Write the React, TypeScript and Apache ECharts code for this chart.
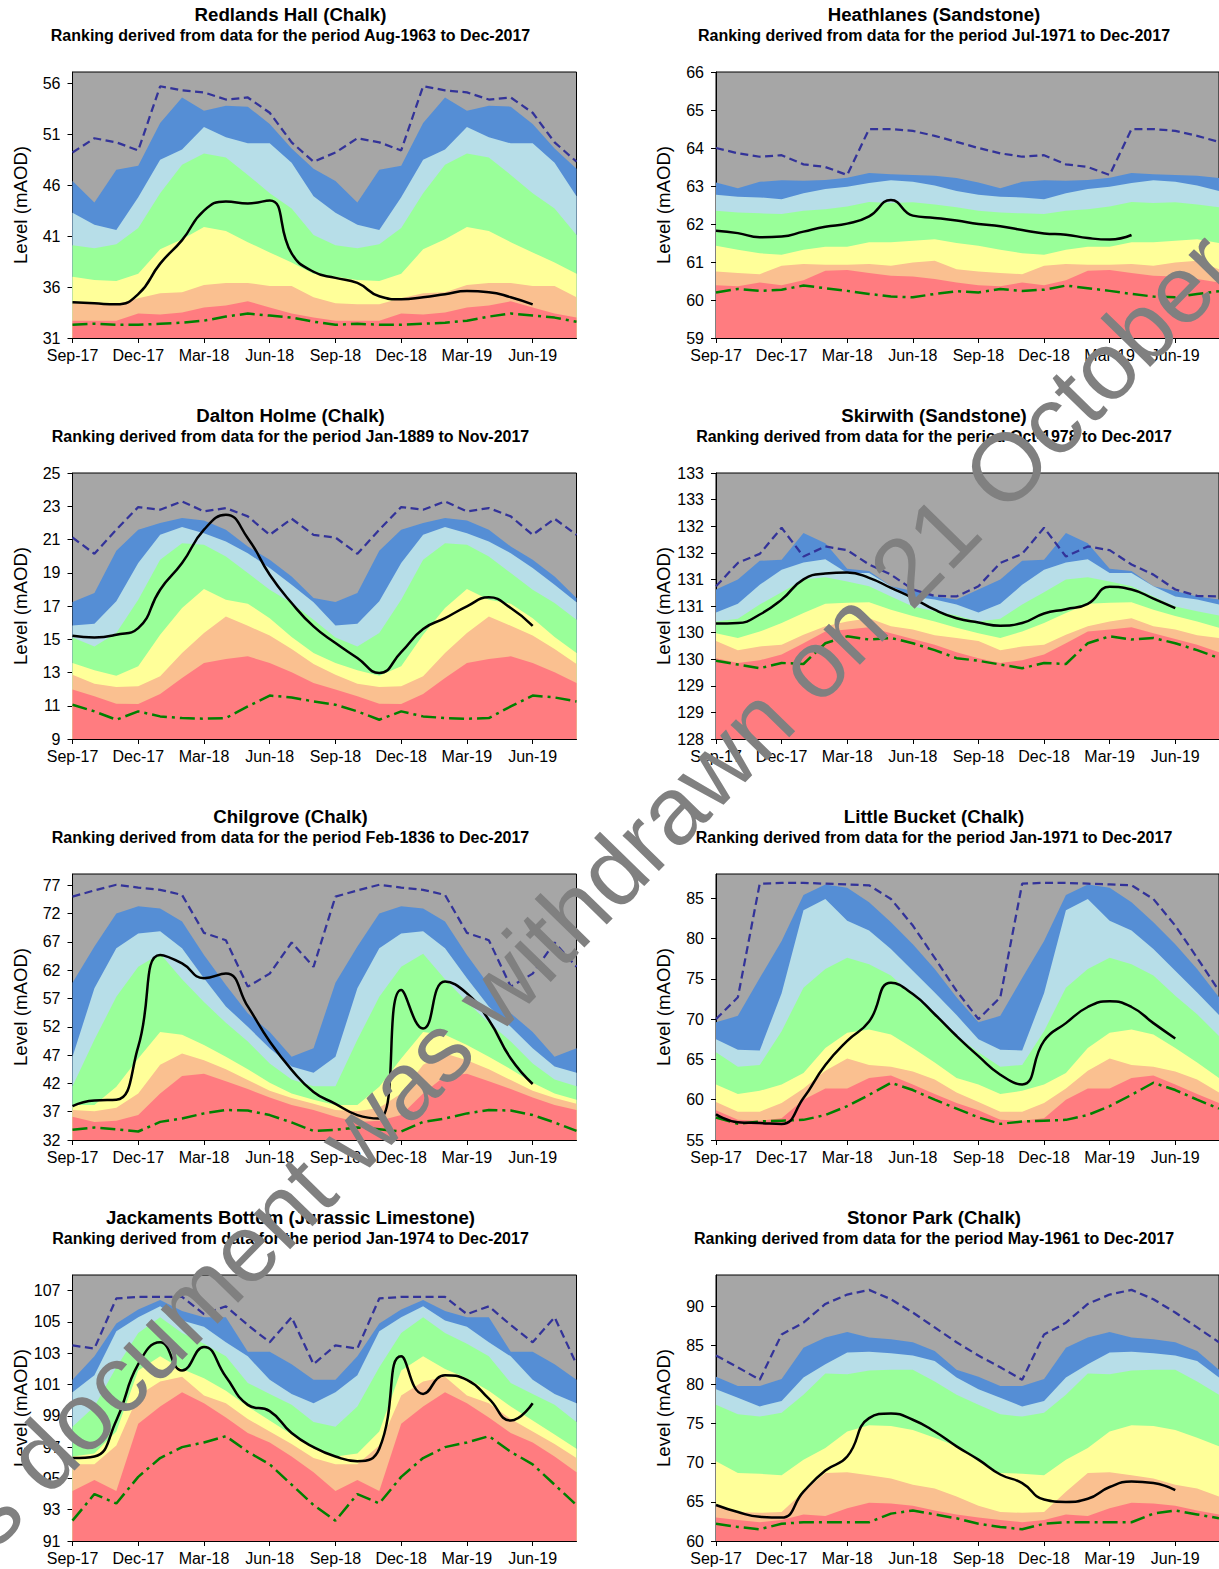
import React, { useEffect, useRef } from 'react';
import * as echarts from 'echarts';

const FONT = "'Liberation Sans', Arial, Helvetica, sans-serif";

// x axis: month index 0 = Sep-17 ... 23 = Aug-19
const TICK_POS = [0, 3, 6, 9, 12, 15, 18, 21];
const TICK_LABELS = ['Sep-17', 'Dec-17', 'Mar-18', 'Jun-18', 'Sep-18', 'Dec-18', 'Mar-19', 'Jun-19'];

// Monthly band tops (Sep..Aug); the same monthly climatology is shown for both years.
// ---- Redlands Hall ----
const redlandsRed = [32.7, 32.7, 32.7, 33.4, 33.3, 33.5, 34.0, 34.2, 34.6, 34.0, 33.4, 33.0];
const redlandsOrange = [34.4, 34.3, 34.3, 34.9, 35.4, 35.5, 36.2, 36.4, 36.4, 36.1, 36.1, 35.0];
const redlandsYellow = [37.0, 36.7, 36.6, 37.3, 39.7, 40.7, 41.9, 41.5, 40.4, 39.4, 38.4, 37.3];
const redlandsGreen = [40.1, 39.8, 40.2, 41.8, 45.2, 48.0, 49.1, 48.7, 47.0, 45.2, 43.7, 41.1];
const redlandsLightBlue = [43.3, 42.1, 41.6, 44.8, 48.5, 49.5, 51.7, 50.7, 50.1, 50.1, 48.2, 44.9];
const redlandsBlue = [46.4, 44.3, 47.5, 47.9, 52.1, 54.6, 53.3, 53.8, 53.7, 52.0, 49.6, 47.6];
const redlandsMax = [49.2, 50.6, 50.2, 49.4, 55.7, 55.3, 55.1, 54.4, 54.6, 53.1, 50.2, 48.3];
const redlandsMin = [32.3, 32.4, 32.3, 32.3, 32.4, 32.5, 32.7, 33.1, 33.4, 33.2, 33.0, 32.6];
const redlandsLevel = [34.5, 34.4, 34.3, 35.3, 38.3, 40.6, 43.5, 44.4, 44.2, 44.5, 39.3, 37.5, 36.9, 36.4, 35.1, 34.8, 35.0, 35.3, 35.6, 35.5, 35.0, 34.3];
const redlandsTicks = [31, 36, 41, 46, 51, 56];

// ---- Heathlanes ----
const heathRed = [60.39, 60.36, 60.46, 60.39, 60.52, 60.77, 60.79, 60.71, 60.64, 60.62, 60.55, 60.46];
const heathOrange = [60.75, 60.71, 60.68, 60.90, 60.95, 60.93, 60.93, 60.95, 60.90, 60.99, 61.03, 60.81];
const heathYellow = [61.43, 61.32, 61.23, 61.19, 61.32, 61.40, 61.40, 61.52, 61.52, 61.56, 61.60, 61.50];
const heathGreen = [62.35, 62.30, 62.28, 62.26, 62.35, 62.39, 62.46, 62.58, 62.55, 62.57, 62.51, 62.44];
const heathLightBlue = [62.77, 62.72, 62.70, 62.65, 62.81, 62.92, 62.98, 63.08, 63.15, 63.11, 63.01, 62.87];
const heathBlue = [63.09, 62.94, 63.11, 63.15, 63.14, 63.16, 63.22, 63.34, 63.31, 63.29, 63.27, 63.21];
const heathMax = [64.0, 63.86, 63.77, 63.81, 63.57, 63.5, 63.29, 64.5, 64.5, 64.45, 64.32, 64.16];
const heathMin = [60.2, 60.29, 60.24, 60.27, 60.38, 60.31, 60.24, 60.16, 60.09, 60.07, 60.16, 60.23];
const heathLevel = [61.82, 61.76, 61.65, 61.67, 61.8, 61.93, 62.01, 62.2, 62.63, 62.22, 62.16, 62.09, 62.0, 61.94, 61.84, 61.75, 61.72, 61.63, 61.59, 61.71];
const heathTicks = [59, 60, 61, 62, 63, 64, 65, 66];

// ---- Dalton Holme ----
const daltonRed = [11.97, 11.57, 11.12, 11.1, 11.71, 12.67, 13.57, 13.81, 13.97, 13.57, 13.01, 12.37];
const daltonOrange = [12.87, 12.33, 12.13, 12.17, 12.77, 14.17, 15.37, 16.37, 15.81, 15.23, 14.41, 13.51];
const daltonYellow = [13.57, 13.13, 12.81, 13.37, 15.27, 16.88, 18.02, 17.38, 17.14, 16.27, 15.13, 14.17];
const daltonGreen = [15.11, 14.57, 15.37, 17.38, 19.78, 20.78, 20.68, 19.98, 18.98, 17.98, 17.18, 16.17];
const daltonLightBlue = [15.83, 15.93, 17.28, 19.58, 21.28, 21.75, 21.38, 20.88, 20.18, 19.28, 18.28, 17.22];
const daltonBlue = [17.24, 17.78, 20.32, 21.59, 21.99, 22.29, 22.15, 21.59, 20.58, 19.78, 18.78, 17.48];
const daltonMax = [21.12, 20.14, 21.59, 22.95, 22.79, 23.29, 22.69, 22.89, 22.39, 21.28, 22.25, 21.28];
const daltonMin = [11.06, 10.66, 10.16, 10.66, 10.36, 10.26, 10.22, 10.26, 10.96, 11.61, 11.5, 11.26];
const daltonLevel = [15.21, 15.11, 15.27, 15.67, 17.98, 19.58, 21.59, 22.49, 21.08, 18.88, 17.18, 15.77, 14.77, 13.87, 12.97, 14.23, 15.61, 16.27, 16.98, 17.52, 16.88, 15.81];
const daltonTicks = [9, 11, 13, 15, 17, 19, 21, 23, 25];

// ---- Skirwith ----
const skirRed = [129.52, 129.43, 129.48, 129.59, 129.8, 130.02, 130.06, 130.1, 129.99, 129.88, 129.77, 129.63];
const skirOrange = [129.84, 129.67, 129.74, 129.77, 129.96, 130.12, 130.21, 130.27, 130.12, 130.06, 129.95, 129.9];
const skirYellow = [129.99, 129.9, 130.02, 130.18, 130.37, 130.54, 130.56, 130.57, 130.43, 130.31, 130.21, 130.09];
const skirGreen = [130.21, 130.26, 130.53, 130.76, 131.0, 131.04, 130.96, 130.87, 130.68, 130.49, 130.4, 130.32];
const skirLightBlue = [130.38, 130.54, 130.9, 131.18, 131.32, 131.38, 131.12, 131.12, 130.87, 130.68, 130.62, 130.53];
const skirBlue = [130.81, 131.0, 131.35, 131.37, 131.87, 131.68, 131.2, 131.16, 130.87, 130.78, 130.68, 130.62];
const skirMax = [130.87, 131.31, 131.48, 131.97, 131.43, 131.62, 131.55, 131.28, 131.09, 130.81, 130.69, 130.68];
const skirMin = [129.47, 129.4, 129.33, 129.43, 129.41, 129.8, 129.93, 129.87, 129.9, 129.8, 129.67, 129.52];
const skirLevel = [130.17, 130.18, 130.34, 130.62, 131.0, 131.11, 131.13, 131.03, 130.84, 130.65, 130.43, 130.27, 130.19, 130.13, 130.18, 130.36, 130.44, 130.54, 130.86, 130.81, 130.64, 130.46];
const skirTicks = [128, 128.5, 129, 129.5, 130, 130.5, 131, 131.5, 132, 132.5, 133];

// ---- Chilgrove ----
const chilRed = [36.1, 35.2, 35.4, 36.4, 40.2, 43.3, 43.7, 42.4, 41.0, 39.5, 38.2, 37.3];
const chilOrange = [37.3, 37.1, 37.7, 40.2, 45.3, 47.3, 46.1, 44.5, 42.6, 40.7, 39.4, 38.4];
const chilYellow = [38.2, 38.2, 41.4, 46.4, 51.1, 50.6, 48.8, 46.7, 44.5, 42.1, 40.2, 39.1];
const chilGreen = [41.5, 49.7, 57.3, 62.6, 64.9, 60.4, 56.4, 52.7, 49.4, 45.5, 42.7, 41.5];
const chilLightBlue = [46.7, 58.8, 65.9, 68.5, 68.9, 65.9, 60.6, 55.6, 52.0, 48.2, 45.0, 43.9];
const chilBlue = [59.8, 66.2, 72.0, 73.3, 72.9, 70.6, 64.7, 59.4, 54.4, 51.1, 46.7, 48.2];
const chilMax = [75.0, 76.1, 77.1, 76.6, 76.2, 75.3, 68.6, 67.3, 59.1, 61.4, 66.9, 62.6];
const chilMin = [33.8, 34.2, 33.9, 33.5, 35.2, 35.8, 36.7, 37.3, 37.2, 36.4, 35.1, 33.6];
const chilLevel = [38.0, 39.0, 39.1, 48.5, 64.7, 63.2, 60.6, 61.4, 55.6, 49.4, 44.4, 40.5, 38.4, 36.4, 35.8, 58.5, 51.7, 60.0, 57.9, 53.2, 46.4, 41.9];
const chilTicks = [32, 37, 42, 47, 52, 57, 62, 67, 72, 77];

// ---- Little Bucket ----
const bucketRed = [58.7, 57.5, 57.4, 57.7, 60.0, 61.4, 61.4, 62.7, 63.0, 61.9, 60.7, 59.6];
const bucketOrange = [59.7, 58.5, 58.5, 59.6, 61.4, 63.6, 65.1, 64.3, 64.1, 63.5, 62.5, 60.9];
const bucketYellow = [61.9, 60.7, 61.1, 61.9, 63.3, 66.4, 68.3, 68.7, 68.1, 66.4, 64.6, 62.7];
const bucketGreen = [65.9, 64.1, 64.3, 68.5, 73.9, 76.2, 77.6, 76.8, 75.4, 72.9, 70.6, 67.9];
const bucketLightBlue = [67.5, 66.2, 66.1, 73.2, 83.5, 84.9, 82.2, 81.0, 78.7, 76.0, 73.3, 70.5];
const bucketBlue = [69.6, 70.4, 75.1, 79.7, 85.4, 86.7, 86.3, 84.5, 82.0, 79.3, 76.2, 72.7];
const bucketMax = [70.0, 72.7, 86.8, 86.9, 86.9, 86.8, 86.7, 86.6, 84.9, 81.6, 77.6, 73.5];
const bucketMin = [57.8, 57.0, 57.3, 57.4, 57.5, 58.1, 59.2, 60.6, 62.1, 61.2, 60.0, 58.9];
const bucketLevel = [58.2, 57.2, 57.1, 57.0, 60.2, 64.3, 67.3, 69.7, 74.5, 73.1, 70.6, 67.9, 65.4, 63.1, 61.9, 67.3, 69.5, 71.5, 72.2, 71.5, 69.5, 67.6];
const bucketTicks = [55, 60, 65, 70, 75, 80, 85];

// ---- Jackaments Bottom ----
const jackRed = [94.2, 94.9, 94.2, 98.5, 99.6, 100.5, 99.8, 98.9, 97.9, 97.3, 96.4, 95.4];
const jackOrange = [95.9, 95.9, 97.1, 100.3, 101.2, 101.5, 100.3, 99.8, 98.8, 98.0, 97.2, 96.3];
const jackYellow = [96.4, 96.6, 98.0, 101.9, 102.8, 102.0, 101.4, 100.6, 99.6, 98.7, 97.8, 96.9];
const jackGreen = [98.3, 99.6, 102.1, 104.3, 105.3, 104.3, 103.6, 102.8, 101.1, 100.4, 99.7, 98.6];
const jackLightBlue = [100.5, 101.6, 104.4, 105.3, 106.0, 105.1, 104.7, 103.7, 102.8, 101.3, 100.4, 99.8];
const jackBlue = [101.3, 102.8, 104.9, 105.8, 106.4, 105.7, 105.3, 105.3, 103.1, 103.1, 102.3, 101.3];
const jackMax = [103.5, 103.3, 106.5, 106.6, 106.6, 106.6, 105.5, 106.0, 104.8, 103.7, 105.3, 102.3];
const jackMin = [92.3, 94.0, 93.4, 95.1, 96.3, 97.0, 97.3, 97.7, 96.7, 95.9, 94.6, 93.3];
const jackLevel = [96.3, 96.4, 98.7, 102.3, 103.7, 101.9, 103.4, 101.5, 99.7, 99.3, 97.9, 97.0, 96.4, 96.1, 96.9, 102.8, 100.4, 101.6, 101.3, 100.1, 98.7, 99.8];
const jackTicks = [91, 93, 95, 97, 99, 101, 103, 105, 107];

// ---- Stonor Park ----
const stonorRed = [63.0, 62.7, 62.4, 62.7, 63.4, 63.2, 64.2, 64.9, 64.8, 64.5, 63.9, 63.4];
const stonorOrange = [64.5, 63.7, 63.6, 63.7, 66.3, 68.7, 68.8, 68.4, 68.0, 67.2, 66.7, 65.7];
const stonorYellow = [70.2, 68.7, 68.6, 68.4, 70.4, 71.9, 74.0, 74.8, 74.7, 74.2, 73.2, 72.1];
const stonorGreen = [77.4, 76.2, 75.9, 76.4, 78.7, 81.4, 81.3, 81.8, 81.9, 81.9, 80.4, 78.7];
const stonorLightBlue = [79.4, 78.3, 77.2, 77.9, 80.9, 82.6, 84.1, 84.2, 84.0, 83.7, 83.0, 80.9];
const stonorBlue = [81.0, 79.8, 79.8, 80.7, 84.7, 86.0, 86.7, 86.0, 85.8, 85.4, 84.3, 81.9];
const stonorMax = [83.7, 82.2, 80.6, 86.4, 87.9, 90.3, 91.5, 92.1, 90.9, 89.2, 87.3, 85.4];
const stonorMin = [62.2, 61.8, 61.5, 62.2, 62.4, 62.4, 62.4, 62.4, 63.5, 63.9, 63.4, 62.9];
const stonorLevel = [64.6, 63.7, 63.1, 63.0, 66.3, 69.0, 70.8, 75.7, 76.3, 75.5, 74.0, 72.1, 70.4, 68.5, 67.4, 65.3, 65.0, 65.4, 66.9, 67.6, 67.4, 66.5];
const stonorTicks = [60, 65, 70, 75, 80, 85, 90];

const PANELS = [
  { title: 'Redlands Hall (Chalk)', sub: 'Ranking derived from data for the period Aug-1963 to Dec-2017', yMin: 31, yMax: 57.1, ticks: redlandsTicks,
    red: redlandsRed, orange: redlandsOrange, yellow: redlandsYellow, green: redlandsGreen, lblue: redlandsLightBlue, blue: redlandsBlue, max: redlandsMax, min: redlandsMin, level: redlandsLevel },
  { title: 'Heathlanes (Sandstone)', sub: 'Ranking derived from data for the period Jul-1971 to Dec-2017', yMin: 59, yMax: 66, ticks: heathTicks,
    red: heathRed, orange: heathOrange, yellow: heathYellow, green: heathGreen, lblue: heathLightBlue, blue: heathBlue, max: heathMax, min: heathMin, level: heathLevel },
  { title: 'Dalton Holme (Chalk)', sub: 'Ranking derived from data for the period Jan-1889 to Nov-2017', yMin: 9, yMax: 25, ticks: daltonTicks,
    red: daltonRed, orange: daltonOrange, yellow: daltonYellow, green: daltonGreen, lblue: daltonLightBlue, blue: daltonBlue, max: daltonMax, min: daltonMin, level: daltonLevel },
  { title: 'Skirwith (Sandstone)', sub: 'Ranking derived from data for the period Oct-1978 to Dec-2017', yMin: 128, yMax: 133, ticks: skirTicks, round: true,
    red: skirRed, orange: skirOrange, yellow: skirYellow, green: skirGreen, lblue: skirLightBlue, blue: skirBlue, max: skirMax, min: skirMin, level: skirLevel },
  { title: 'Chilgrove (Chalk)', sub: 'Ranking derived from data for the period Feb-1836 to Dec-2017', yMin: 32, yMax: 79, ticks: chilTicks,
    red: chilRed, orange: chilOrange, yellow: chilYellow, green: chilGreen, lblue: chilLightBlue, blue: chilBlue, max: chilMax, min: chilMin, level: chilLevel },
  { title: 'Little Bucket (Chalk)', sub: 'Ranking derived from data for the period Jan-1971 to Dec-2017', yMin: 55, yMax: 88, ticks: bucketTicks,
    red: bucketRed, orange: bucketOrange, yellow: bucketYellow, green: bucketGreen, lblue: bucketLightBlue, blue: bucketBlue, max: bucketMax, min: bucketMin, level: bucketLevel },
  { title: 'Jackaments Bottom (Jurassic Limestone)', sub: 'Ranking derived from data for the period Jan-1974 to Dec-2017', yMin: 91, yMax: 108, ticks: jackTicks,
    red: jackRed, orange: jackOrange, yellow: jackYellow, green: jackGreen, lblue: jackLightBlue, blue: jackBlue, max: jackMax, min: jackMin, level: jackLevel },
  { title: 'Stonor Park (Chalk)', sub: 'Ranking derived from data for the period May-1961 to Dec-2017', yMin: 60, yMax: 94, ticks: stonorTicks,
    red: stonorRed, orange: stonorOrange, yellow: stonorYellow, green: stonorGreen, lblue: stonorLightBlue, blue: stonorBlue, max: stonorMax, min: stonorMin, level: stonorLevel },
];

const COLORS = {
  bg: '#A6A6A6', blue: '#558ED5', lblue: '#B7DEE8', green: '#99FF99', yellow: '#FFFF99', orange: '#FAC090', red: '#FF7C80',
  max: '#333399', min: '#008000', level: '#000000',
};

const COL_LEFT = [72.5, 716];
const COL_TITLE_X = [290.5, 934];
const ROW_TOP = [72, 473, 874, 1275];
const PLOT_W = 504;
const PLOT_H = 266;

const twoYears = (a: number[]) => a.concat(a);
const toPoints = (a: number[]) => a.map((v, i) => [i, v]);

function buildOption() {
  const grid: any[] = [];
  const xAxis: any[] = [];
  const yAxis: any[] = [];
  const series: any[] = [];
  const graphic: any[] = [];

  PANELS.forEach((p: any, k) => {
    const col = k % 2;
    const row = Math.floor(k / 2);
    const left = COL_LEFT[col];
    const top = ROW_TOP[row];
    grid.push({ left, top, width: PLOT_W, height: PLOT_H, show: true, backgroundColor: COLORS.bg, borderColor: '#000', borderWidth: 1 });
    xAxis.push({
      type: 'value', gridIndex: k, min: 0, max: 23, interval: 3,
      axisLine: { onZero: false, lineStyle: { color: '#000', width: 1 } },
      axisTick: { show: true, length: 5, customValues: TICK_POS, lineStyle: { color: '#000' } },
      axisLabel: {
        customValues: TICK_POS, color: '#000', fontSize: 16, fontFamily: FONT, margin: 9,
        formatter: (v: number) => (Math.abs(v / 3 - Math.round(v / 3)) < 1e-6 ? TICK_LABELS[Math.round(v / 3)] || '' : ''),
      },
      splitLine: { show: false },
    });
    yAxis.push({
      type: 'value', gridIndex: k, min: p.yMin, max: p.yMax,
      name: 'Level (mAOD)', nameLocation: 'middle', nameGap: 43,
      nameTextStyle: { fontSize: 18.67, color: '#000', fontFamily: FONT },
      axisLine: { show: true, onZero: false, lineStyle: { color: '#000', width: 1 } },
      axisTick: { show: true, length: 5, customValues: p.ticks, lineStyle: { color: '#000' } },
      axisLabel: {
        customValues: p.ticks, color: '#000', fontSize: 16, fontFamily: FONT, margin: 12,
        formatter: (v: number) => (p.round ? String(Math.round(v)) : String(v)),
      },
      splitLine: { show: false },
    });
    const bands: [number[], string][] = [
      [p.blue, COLORS.blue], [p.lblue, COLORS.lblue], [p.green, COLORS.green],
      [p.yellow, COLORS.yellow], [p.orange, COLORS.orange], [p.red, COLORS.red],
    ];
    bands.forEach(([arr, color]) => {
      series.push({
        type: 'line', xAxisIndex: k, yAxisIndex: k, data: toPoints(twoYears(arr)),
        symbol: 'none', silent: true, z: 2,
        lineStyle: { width: 0, opacity: 0 },
        areaStyle: { color, opacity: 1, origin: 'start' },
      });
    });
    series.push({
      type: 'line', xAxisIndex: k, yAxisIndex: k, data: toPoints(twoYears(p.max)),
      symbol: 'none', silent: true, z: 3,
      lineStyle: { color: COLORS.max, width: 2.25, type: [8, 4.5] },
    });
    series.push({
      type: 'line', xAxisIndex: k, yAxisIndex: k, data: toPoints(twoYears(p.min)),
      symbol: 'none', silent: true, z: 3,
      lineStyle: { color: COLORS.min, width: 2.5, type: [15, 5, 3, 5] },
    });
    series.push({
      type: 'line', xAxisIndex: k, yAxisIndex: k, data: toPoints(p.level),
      symbol: 'none', silent: true, z: 4, smooth: 0.5,
      lineStyle: { color: COLORS.level, width: 2.5 },
    });
    graphic.push({
      type: 'text', x: COL_TITLE_X[col], y: top - 58, z: 50,
      style: { text: p.title, fill: '#000', fontSize: 18.67, fontWeight: 'bold', fontFamily: FONT,
        align: 'center', verticalAlign: 'middle', textAlign: 'center', textVerticalAlign: 'middle' },
    });
    graphic.push({
      type: 'text', x: COL_TITLE_X[col], y: top - 37, z: 50,
      style: { text: p.sub, fill: '#000', fontSize: 16, fontWeight: 'bold', fontFamily: FONT,
        align: 'center', verticalAlign: 'middle', textAlign: 'center', textVerticalAlign: 'middle' },
    });
  });

  // diagonal watermark, starting below-left of the page
  graphic.push({
    type: 'text', x: -122, y: 1624, rotation: (45.7 * Math.PI) / 180, z: 200,
    style: { text: 'This document was withdrawn on 21 October 2019', fill: '#808080', fontSize: 96, fontFamily: FONT,
      align: 'left', verticalAlign: 'middle', textAlign: 'left', textVerticalAlign: 'middle' },
  });

  return { animation: false, backgroundColor: '#ffffff', grid, xAxis, yAxis, series, graphic };
}

export default function App() {
  const ref = useRef<HTMLDivElement>(null);
  useEffect(() => {
    if (!ref.current) return;
    const chart = echarts.init(ref.current, undefined, { renderer: 'svg' });
    chart.setOption(buildOption() as any);
    return () => chart.dispose();
  }, []);
  return <div ref={ref} style={{ position: 'absolute', left: 0, top: 0, width: 1219, height: 1569, background: '#fff' }} />;
}
